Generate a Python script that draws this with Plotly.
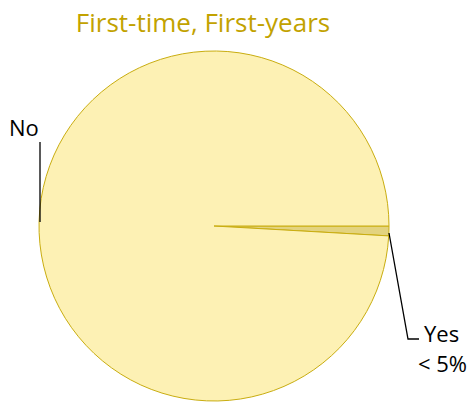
import plotly.graph_objects as go

labels = ["Yes", "No"]
values = [0.9, 99.1]
label_texts = ["Yes<br>< 5%", "No"]
title_text = "First-time, First-years"

W, H = 469, 402

def px(x):
    return x / W

def py(y):
    return 1 - y / H

fig = go.Figure(go.Pie(
    labels=labels,
    values=values,
    sort=False,
    direction="clockwise",
    rotation=90,
    textinfo="none",
    hoverinfo="label+percent",
    marker=dict(colors=["#E3D37F", "#FDF1B4"], line=dict(color="#C9AD10", width=1)),
    domain=dict(x=[px(39), px(389)], y=[py(401), py(51)]),
    showlegend=False,
))

line_style = dict(color="black", width=1.3)
fig.add_shape(type="line", xref="paper", yref="paper",
              x0=px(40), y0=py(142), x1=px(40), y1=py(222), line=line_style)
fig.add_shape(type="path", xref="paper", yref="paper",
              path=f"M {px(389)} {py(233)} L {px(408)} {py(339)} L {px(419)} {py(339)}",
              line=line_style)

lab_font = dict(family="Open Sans", size=22, color="black")
fig.add_annotation(text=label_texts[1], xref="paper", yref="paper",
                   x=px(24), y=py(127), xanchor="center", yanchor="middle",
                   showarrow=False, font=lab_font)
fig.add_annotation(text="Yes", xref="paper", yref="paper",
                   x=px(441), y=py(333), xanchor="center", yanchor="middle",
                   showarrow=False, font=lab_font)
fig.add_annotation(text="< 5%", xref="paper", yref="paper",
                   x=px(442), y=py(363), xanchor="center", yanchor="middle",
                   showarrow=False, font=lab_font)

fig.update_layout(
    width=W, height=H,
    margin=dict(l=0, r=0, t=0, b=0),
    paper_bgcolor="white",
    plot_bgcolor="white",
    title=dict(text=title_text, x=px(203), xanchor="center", y=py(23), yanchor="middle",
               font=dict(family="Open Sans", size=26, color="#C2A200")),
)

fig.write_html(
    "out.html",
    config={"displayModeBar": False},
    post_script="document.body.style.margin='0';document.body.style.overflow='hidden';",
)
